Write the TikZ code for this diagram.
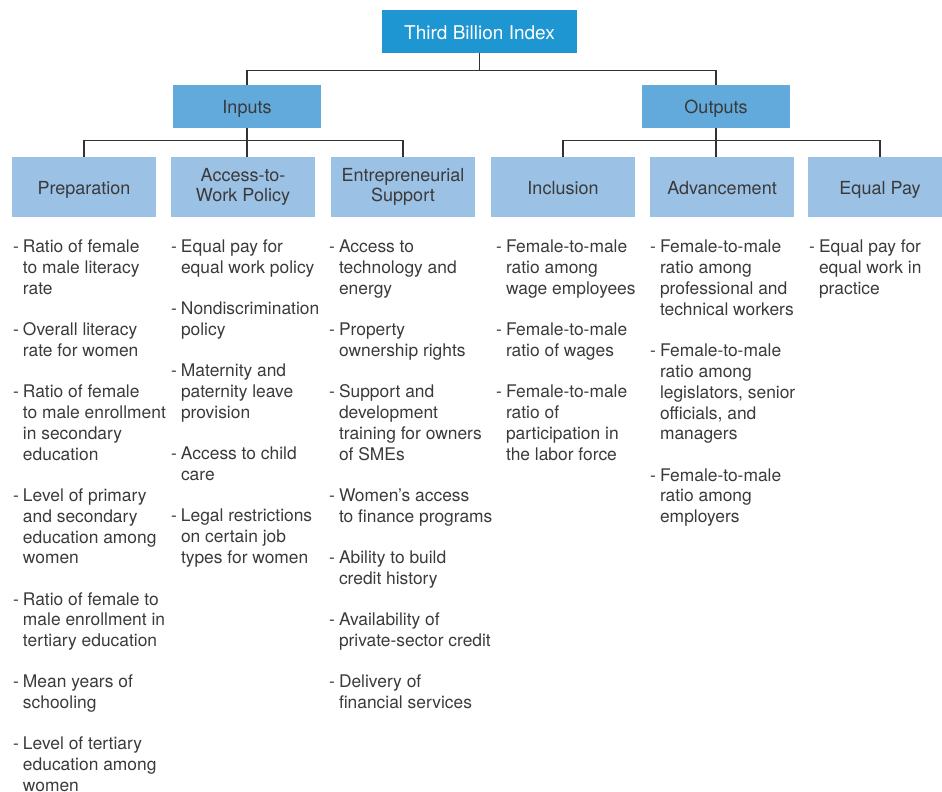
\documentclass[tikz,border=0pt]{standalone}
\usepackage{fontspec}
\setmainfont{TeX Gyre Heros}
\usetikzlibrary{calc}
\definecolor{titleblue}{RGB}{30,150,210}
\definecolor{midblue}{RGB}{98,170,219}
\definecolor{paleblue}{RGB}{155,193,229}
\definecolor{txtgray}{RGB}{58,58,58}
\definecolor{linegray}{RGB}{50,50,50}
\newlength{\dashw}
\setlength{\dashw}{9.8pt}
% one bullet item: dash, then its lines
\newcommand{\itm}[1]{\makebox[\dashw][l]{-}\begin{tabular}[t]{@{}l@{}}#1\end{tabular}}

\begin{document}
\begin{tikzpicture}[x=1pt,y=-1pt,
  titlebox/.style={fill=titleblue,text=white,minimum width=195pt,minimum height=43pt,inner sep=0pt,text height=17pt,text depth=0pt,font=\fontsize{19}{22}\selectfont},
  groupbox/.style={fill=midblue,text=txtgray,minimum width=148pt,minimum height=43pt,inner sep=0pt,text height=13.6pt,text depth=0pt,font=\fontsize{18}{21}\selectfont},
  catbox/.style={fill=paleblue,text=txtgray,minimum width=144pt,minimum height=60pt,inner sep=0pt,align=center,font=\fontsize{18}{19.5}\selectfont},
  onecat/.style={catbox,text height=14.6pt,text depth=0pt},
  itemlist/.style={anchor=north west,inner sep=0pt,align=left,text=txtgray,font=\fontsize{17.4}{20.85}\selectfont},
  link/.style={draw=linegray,line width=1.3pt}]
\useasboundingbox (0,0) rectangle (942,792);

% boxes
\node[titlebox] (title) at (479.5,31.5) {Third Billion Index};
\node[groupbox] (inputs) at (247,106.5) {Inputs};
\node[groupbox] (outputs) at (716,106.5) {Outputs};
\node[onecat] (prep) at (84,187) {Preparation};
\node[catbox] (access) at (243,187) {Access-to-\\Work Policy};
\node[catbox] (entre) at (403,187) {Entrepreneurial\\Support};
\node[onecat] (incl) at (563,187) {Inclusion};
\node[onecat] (adv) at (722,187) {Advancement};
\node[onecat] (eqpay) at (880,187) {Equal Pay};

% connectors
\coordinate (topbus) at ($(title.south)+(0,17)$);
\coordinate (inbus) at ($(inputs.south)+(0,12)$);
\coordinate (outbus) at ($(outputs.south)+(0,12)$);
\draw[link] (title.south) -- (topbus);
\draw[link] (inputs.north) |- (topbus) -| (outputs.north);
\draw[link] (inputs.south) -- (inbus) -- (inbus |- access.north);
\draw[link] (prep.north) |- (inbus) -| (entre.north);
\draw[link] (outputs.south) -- (outbus) -- (outbus |- adv.north);
\draw[link] (incl.north) |- (outbus) -| (eqpay.north);

% item lists
\node[itemlist] (preplist) at (13,238) {%
  \itm{Ratio of female\\to male literacy\\rate}\\[19.3pt]
  \itm{Overall literacy\\rate for women}\\[19.3pt]
  \itm{Ratio of female\\to male enrollment\\in secondary\\education}\\[19.3pt]
  \itm{Level of primary\\and secondary\\education among\\women}\\[19.3pt]
  \itm{Ratio of female to\\male enrollment in\\tertiary education}\\[19.3pt]
  \itm{Mean years of\\schooling}\\[19.3pt]
  \itm{Level of tertiary\\education among\\women}};
\node[itemlist] (accesslist) at (171,238) {%
  \itm{Equal pay for\\equal work policy}\\[19.3pt]
  \itm{Nondiscrimination\\policy}\\[19.3pt]
  \itm{Maternity and\\paternity leave\\provision}\\[19.3pt]
  \itm{Access to child\\care}\\[19.3pt]
  \itm{Legal restrictions\\on certain job\\types for women}};
\node[itemlist] (entrelist) at (329,238) {%
  \itm{Access to\\technology and\\energy}\\[19.3pt]
  \itm{Property\\ownership rights}\\[19.3pt]
  \itm{Support and\\development\\training for owners\\of SMEs}\\[19.3pt]
  \itm{Women’s access\\to finance programs}\\[19.3pt]
  \itm{Ability to build\\credit history}\\[19.3pt]
  \itm{Availability of\\private-sector credit}\\[19.3pt]
  \itm{Delivery of\\financial services}};
\node[itemlist] (incllist) at (496,238) {%
  \itm{Female-to-male\\ratio among\\wage employees}\\[19.3pt]
  \itm{Female-to-male\\ratio of wages}\\[19.3pt]
  \itm{Female-to-male\\ratio of\\participation in\\the labor force}};
\node[itemlist] (advlist) at (650,238) {%
  \itm{Female-to-male\\ratio among\\professional and\\technical workers}\\[19.3pt]
  \itm{Female-to-male\\ratio among\\legislators, senior\\officials, and\\managers}\\[19.3pt]
  \itm{Female-to-male\\ratio among\\employers}};
\node[itemlist] (eqpaylist) at (809,238) {%
  \itm{Equal pay for\\equal work in\\practice}};
\end{tikzpicture}
\end{document}
